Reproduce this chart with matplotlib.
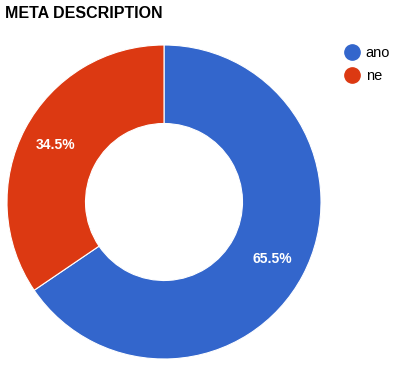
import matplotlib.pyplot as plt
from matplotlib.lines import Line2D

labels = ["ano", "ne"]
values = [65.5, 34.5]
colors = ["#3366CC", "#DC3912"]

plt.rcParams['font.family'] = ['Liberation Sans', 'DejaVu Sans']

fig = plt.figure(figsize=(3.95, 3.7), dpi=100)
ax = fig.add_axes([7 / 395, 11 / 370, 314 / 395, 314 / 370])

wedges, texts, autotexts = ax.pie(
    values, colors=colors, startangle=90, counterclock=False,
    autopct='%.1f%%', pctdistance=0.78,
    wedgeprops=dict(width=0.5, edgecolor='white', linewidth=0.8),
    textprops=dict(color='white', fontsize=10, fontweight='bold'))
ax.set_aspect('equal')
ax.set_xlim(-1, 1)
ax.set_ylim(-1, 1)

fig.text(5 / 395, 1 - 14 / 370, "META DESCRIPTION", fontsize=11.5,
         fontweight='bold', va='center', ha='left')

# legend with round markers, top right
handles = [Line2D([], [], marker='o', linestyle='', markersize=11,
                  markerfacecolor=c, markeredgecolor=c) for c in colors]
fig.legend(handles, labels, loc='upper left',
           bbox_to_anchor=(343 / 395, 1 - 46 / 370), frameon=False,
           fontsize=10.5, handletextpad=0.35, labelspacing=0.6,
           handlelength=1.2, borderaxespad=0, borderpad=0)

fig.savefig("out.png", dpi=100)
